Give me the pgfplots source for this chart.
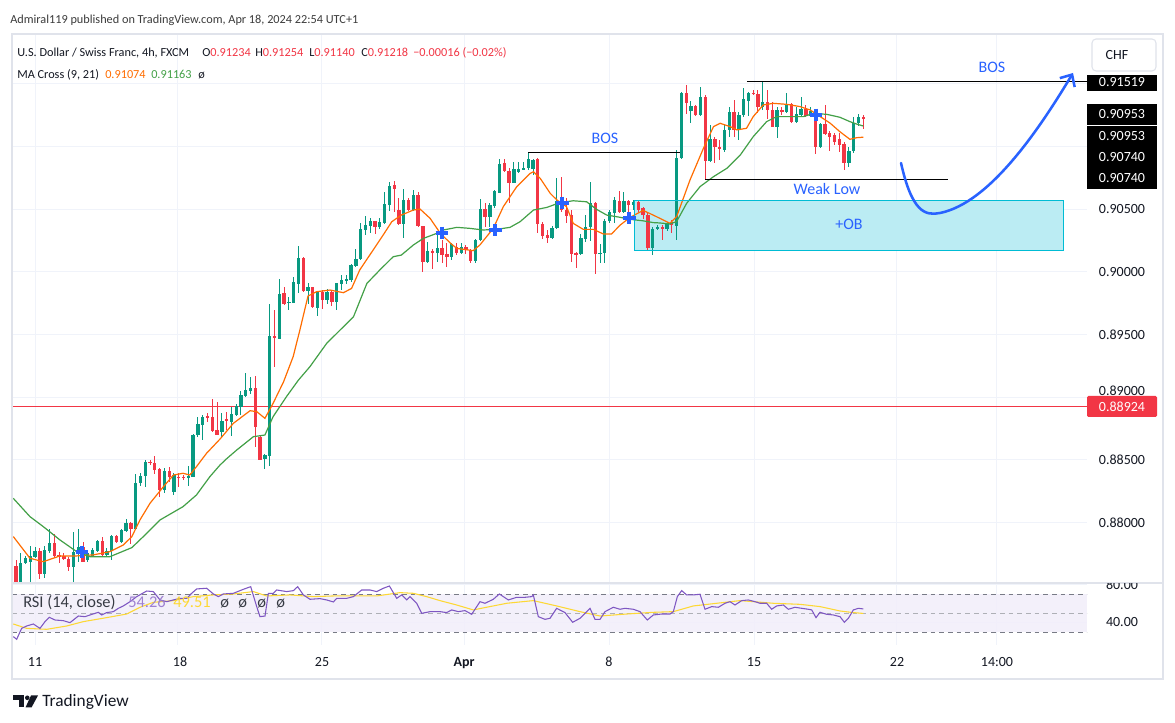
\documentclass[border=0pt]{standalone}
\usepackage{pgfplots}
\pgfplotsset{compat=1.18}
\usepackage{pgfplotstable}
\usepackage{fontspec}
\setmainfont{Carlito}
\usetikzlibrary{arrows.meta}
\definecolor{up}{RGB}{8,153,129}
\definecolor{dn}{RGB}{242,54,69}
\definecolor{maO}{RGB}{255,109,0}
\definecolor{maG}{RGB}{67,160,71}
\definecolor{rsiP}{RGB}{126,87,194}
\definecolor{rsiY}{RGB}{253,216,53}
\definecolor{tvblue}{RGB}{41,98,255}
\definecolor{obfill}{RGB}{187,236,243}
\definecolor{obline}{RGB}{0,188,212}
\definecolor{gridc}{RGB}{240,243,250}
\definecolor{framec}{RGB}{224,227,235}
\definecolor{txt}{RGB}{19,23,34}
\definecolor{hdr}{RGB}{60,60,60}
\definecolor{bandc}{RGB}{242,238,250}
\definecolor{dashc}{RGB}{120,123,134}
\newcommand{\fs}[1]{\fontsize{#1}{#1}\selectfont}
\pgfplotsset{candle/.style={only marks, mark=*, mark size=0.01pt, forget plot,
  mark options={draw opacity=0, fill opacity=0},
  error bars/.cd, y dir=both, y explicit, error mark=none}}
\pgfplotstableread{
i o h l c
1 0.87530 0.87756 0.87527 0.87681
2 0.87676 0.87735 0.87671 0.87716
3 0.87689 0.87817 0.87530 0.87735
4 0.87729 0.87809 0.87716 0.87777
6 0.87588 0.87817 0.87556 0.87782
7 0.87777 0.87947 0.87756 0.87836
12 0.87650 0.87923 0.87530 0.87769
13 0.87769 0.87950 0.87689 0.87804
15 0.87700 0.87777 0.87689 0.87761
16 0.87735 0.87796 0.87729 0.87782
17 0.87777 0.87862 0.87769 0.87854
19 0.87743 0.87796 0.87729 0.87777
20 0.87774 0.87902 0.87703 0.87897
22 0.87849 0.87947 0.87841 0.87942
23 0.87937 0.88027 0.87929 0.87995
25 0.87955 0.88388 0.87950 0.88314
26 0.88314 0.88394 0.88293 0.88375
27 0.88372 0.88500 0.88282 0.88487
31 0.88261 0.88434 0.88234 0.88412
33 0.88248 0.88394 0.88221 0.88380
36 0.88362 0.88452 0.88293 0.88372
37 0.88367 0.88707 0.88362 0.88701
38 0.88701 0.88846 0.88686 0.88785
39 0.88779 0.88859 0.88660 0.88846
43 0.88725 0.88877 0.88686 0.88812
45 0.88800 0.88925 0.88691 0.88866
46 0.88858 0.88951 0.88850 0.88930
47 0.88925 0.89052 0.88858 0.89018
48 0.89010 0.89196 0.89005 0.89058
49 0.89052 0.89164 0.89031 0.89079
52 0.88507 0.88547 0.88425 0.88539
53 0.88534 0.89749 0.88452 0.89488
55 0.89470 0.89943 0.89462 0.89829
57 0.89754 0.89802 0.89696 0.89762
58 0.89754 0.89961 0.89749 0.89916
59 0.89908 0.90206 0.89834 0.90108
61 0.89850 0.89914 0.89745 0.89882
63 0.89717 0.89850 0.89648 0.89842
65 0.89775 0.89868 0.89743 0.89842
67 0.89762 0.89914 0.89696 0.89908
68 0.89903 0.89975 0.89855 0.89940
69 0.89935 0.89980 0.89908 0.89943
70 0.89935 0.90060 0.89922 0.90054
71 0.90046 0.90182 0.90041 0.90102
72 0.90100 0.90392 0.90094 0.90339
73 0.90334 0.90445 0.90294 0.90373
74 0.90368 0.90432 0.90307 0.90408
76 0.90355 0.90427 0.90339 0.90395
77 0.90387 0.90639 0.90381 0.90538
78 0.90538 0.90719 0.90488 0.90684
81 0.90381 0.90658 0.90267 0.90573
83 0.90493 0.90658 0.90485 0.90613
86 0.90081 0.90241 0.90068 0.90166
88 0.90153 0.90307 0.90081 0.90193
91 0.90116 0.90227 0.90094 0.90219
93 0.90148 0.90233 0.90142 0.90201
96 0.90089 0.90267 0.90073 0.90254
97 0.90254 0.90578 0.90249 0.90501
99 0.90435 0.90546 0.90355 0.90533
100 0.90525 0.90653 0.90506 0.90645
101 0.90631 0.90900 0.90626 0.90865
104 0.90714 0.90878 0.90706 0.90825
105 0.90799 0.90878 0.90793 0.90825
106 0.90820 0.90873 0.90812 0.90825
107 0.90825 0.90953 0.90812 0.90900
108 0.90825 0.90905 0.90772 0.90897
112 0.90275 0.90365 0.90267 0.90347
113 0.90347 0.90746 0.90342 0.90567
118 0.90142 0.90307 0.90134 0.90267
119 0.90267 0.90453 0.90241 0.90360
120 0.90360 0.90719 0.90249 0.90552
122 0.90142 0.90222 0.90073 0.90153
123 0.90148 0.90419 0.90073 0.90408
124 0.90408 0.90493 0.90387 0.90480
125 0.90472 0.90599 0.90392 0.90578
127 0.90480 0.90639 0.90472 0.90567
129 0.90533 0.90573 0.90493 0.90559
133 0.90188 0.90361 0.90135 0.90347
134 0.90339 0.90374 0.90334 0.90361
136 0.90339 0.90401 0.90329 0.90387
138 0.90366 0.90972 0.90254 0.90906
139 0.90906 0.91437 0.90898 0.91429
141 0.91286 0.91365 0.91185 0.91323
143 0.91251 0.91477 0.91246 0.91397
145 0.90887 0.91171 0.90879 0.91057
148 0.90972 0.91171 0.90959 0.91132
149 0.91132 0.91318 0.91078 0.91278
151 0.91132 0.91278 0.91052 0.91251
152 0.91251 0.91464 0.91238 0.91376
153 0.91365 0.91437 0.91243 0.91429
156 0.91312 0.91519 0.91291 0.91352
159 0.91158 0.91318 0.91073 0.91291
161 0.91278 0.91424 0.91270 0.91336
163 0.91198 0.91318 0.91190 0.91256
164 0.91251 0.91397 0.91238 0.91296
166 0.91243 0.91312 0.91233 0.91286
168 0.90999 0.91190 0.90985 0.91179
174 0.90866 0.90993 0.90834 0.90967
175 0.90967 0.91238 0.90951 0.91185
176 0.91185 0.91264 0.91163 0.91238
}\uptab
\pgfplotstableread{
i o h l c
0 0.87655 0.87703 0.87527 0.87530
5 0.87777 0.87796 0.87551 0.87588
8 0.87836 0.87910 0.87716 0.87735
9 0.87743 0.87769 0.87681 0.87735
10 0.87737 0.87756 0.87703 0.87708
11 0.87708 0.87729 0.87618 0.87650
14 0.87804 0.87844 0.87684 0.87689
18 0.87854 0.87889 0.87729 0.87743
21 0.87897 0.87902 0.87841 0.87849
24 0.88000 0.88008 0.87830 0.87955
28 0.88487 0.88500 0.88460 0.88473
29 0.88479 0.88532 0.88388 0.88420
30 0.88426 0.88434 0.88202 0.88261
32 0.88412 0.88442 0.88327 0.88367
34 0.88367 0.88394 0.88287 0.88362
35 0.88367 0.88380 0.88341 0.88359
40 0.88846 0.88877 0.88806 0.88840
41 0.88846 0.88984 0.88726 0.88731
42 0.88739 0.88965 0.88699 0.88705
44 0.88825 0.88885 0.88739 0.88813
50 0.89079 0.89169 0.88601 0.88765
51 0.88686 0.88691 0.88499 0.88505
54 0.89488 0.89696 0.89244 0.89470
56 0.89829 0.89882 0.89735 0.89743
60 0.90113 0.90121 0.89844 0.89850
62 0.89876 0.89882 0.89709 0.89717
64 0.89837 0.89855 0.89701 0.89775
66 0.89837 0.89855 0.89728 0.89762
75 0.90405 0.90408 0.90307 0.90360
79 0.90692 0.90724 0.90480 0.90658
80 0.90493 0.90586 0.90373 0.90381
82 0.90573 0.90591 0.90488 0.90493
84 0.90613 0.90639 0.90360 0.90365
85 0.90365 0.90370 0.90001 0.90081
87 0.90166 0.90179 0.90020 0.90156
89 0.90193 0.90254 0.90073 0.90134
90 0.90142 0.90233 0.90041 0.90116
92 0.90201 0.90227 0.90134 0.90153
94 0.90195 0.90214 0.90142 0.90174
95 0.90174 0.90187 0.90073 0.90089
98 0.90501 0.90552 0.90360 0.90435
102 0.90865 0.90897 0.90793 0.90807
103 0.90807 0.90825 0.90546 0.90711
109 0.90905 0.90910 0.90307 0.90381
110 0.90387 0.90400 0.90259 0.90286
111 0.90294 0.90334 0.90233 0.90275
114 0.90567 0.90759 0.90480 0.90493
115 0.90493 0.90586 0.90387 0.90445
116 0.90453 0.90493 0.90081 0.90142
117 0.90148 0.90161 0.90036 0.90137
121 0.90552 0.90559 0.89983 0.90142
126 0.90567 0.90645 0.90466 0.90480
128 0.90567 0.90573 0.90435 0.90533
130 0.90559 0.90573 0.90480 0.90493
131 0.90506 0.90520 0.90427 0.90453
132 0.90453 0.90466 0.90174 0.90187
135 0.90361 0.90374 0.90254 0.90339
137 0.90401 0.90414 0.90308 0.90374
140 0.91429 0.91490 0.91259 0.91344
142 0.91323 0.91331 0.91243 0.91251
144 0.91397 0.91411 0.90740 0.90887
146 0.91057 0.91078 0.90871 0.90993
147 0.90999 0.91052 0.90892 0.90977
150 0.91278 0.91371 0.91078 0.91132
154 0.91429 0.91451 0.91411 0.91419
155 0.91419 0.91451 0.91270 0.91312
157 0.91352 0.91451 0.91217 0.91291
158 0.91291 0.91357 0.91153 0.91158
160 0.91291 0.91318 0.91251 0.91278
162 0.91336 0.91344 0.91190 0.91198
165 0.91296 0.91331 0.91238 0.91243
167 0.91264 0.91278 0.90940 0.90999
169 0.91177 0.91331 0.91092 0.91100
170 0.91110 0.91124 0.90967 0.91078
171 0.91092 0.91105 0.91012 0.91039
172 0.91057 0.91105 0.90959 0.91012
173 0.91020 0.91039 0.90813 0.90866
177 0.91234 0.91254 0.91140 0.91218
}\dntab
\begin{document}
\begin{tikzpicture}
\path[use as bounding box, fill=white] (0,0) rectangle (881.25pt,542.25pt);
% ---------------- price pane ----------------
\begin{axis}[
  anchor=south west, at={(9pt,105.75pt)},
  width=806.25pt, height=411pt, scale only axis,
  xmin=-0.836, xmax=223.73, ymin=0.87527, ymax=0.91897,
  axis line style={draw=none},
  xtick={3.97,33.8,63.9,93.6,123.9,154.2,184.0,204.9},
  ytick={0.880,0.885,0.890,0.895,0.900,0.905,0.910,0.915},
  xticklabel=\empty, yticklabel=\empty, scaled y ticks=false,
  major tick length=0pt,
  grid=major, grid style={gridc, line width=0.75pt},
  clip=true,
]
\fill[obfill] (axis cs:129.1,0.90174) rectangle (axis cs:218.9,0.90573);
\draw[dn, line width=0.75pt] (axis cs:-0.836,0.88924) -- (axis cs:223.73,0.88924);
% wicks
\addplot[candle, error bar style={line width=0.75pt, up}]
  table[x=i, y expr={(\thisrow{h}+\thisrow{l})/2}, y error expr={(\thisrow{h}-\thisrow{l})/2}] {\uptab};
\addplot[candle, error bar style={line width=0.75pt, dn}]
  table[x=i, y expr={(\thisrow{h}+\thisrow{l})/2}, y error expr={(\thisrow{h}-\thisrow{l})/2}] {\dntab};
% bodies
\addplot[candle, error bar style={line width=2.5pt, up}]
  table[x=i, y expr={(\thisrow{o}+\thisrow{c})/2}, y error expr={max(abs(\thisrow{c}-\thisrow{o})/2,0.00004)}] {\uptab};
\addplot[candle, error bar style={line width=2.5pt, dn}]
  table[x=i, y expr={(\thisrow{o}+\thisrow{c})/2}, y error expr={max(abs(\thisrow{c}-\thisrow{o})/2,0.00004)}] {\dntab};
% MA 9
\addplot[maO, line width=0.9pt, mark=none] coordinates {
(-0.56,0.87889) (2.92,0.87716) (5.71,0.87689) (9.19,0.87735) (12.67,0.87735) (16.15,0.87743)
(19.63,0.87769) (22.4,0.87822) (24.2,0.87889) (25.9,0.88022) (28.0,0.88155) (30.8,0.88287)
(32.9,0.88380) (34.9,0.88394) (36.3,0.88380) (37.7,0.88447) (39.8,0.88553) (42.6,0.88666)
(45.4,0.88792) (48.9,0.88893) (50.3,0.88885) (52.0,0.88832) (53.7,0.88951) (55.9,0.89124)
(57.9,0.89324) (59.3,0.89536) (61.0,0.89807) (62.8,0.89842) (65.6,0.89855) (68.4,0.89834)
(70.1,0.89868) (71.8,0.90015) (74.6,0.90174) (76.7,0.90294) (78.5,0.90400) (80.5,0.90453)
(83.0,0.90493) (84.4,0.90501) (86.5,0.90427) (88.6,0.90310) (90.7,0.90230) (92.1,0.90187)
(95.5,0.90169) (96.9,0.90214) (99.7,0.90347) (101.8,0.90520) (104.6,0.90679) (107.4,0.90785)
(108.1,0.90799) (109.5,0.90746) (111.6,0.90626) (113.0,0.90573) (115.0,0.90520) (116.4,0.90387)
(118.5,0.90339) (120.6,0.90339) (122.7,0.90302) (124.4,0.90302) (126.2,0.90373) (128.3,0.90435)
(131.0,0.90490) (133.1,0.90453) (134.5,0.90427) (136.6,0.90387) (138.0,0.90440) (140.8,0.90733)
(143.6,0.90985) (145.7,0.91158) (147.1,0.91185) (149.2,0.91158) (150.6,0.91132) (152.6,0.91145)
(154.0,0.91238) (156.1,0.91331) (158.2,0.91344) (161.0,0.91336) (163.8,0.91318) (165.9,0.91291)
(168.0,0.91238) (170.1,0.91185) (172.1,0.91118) (174.2,0.91057) (175.6,0.91070) (177.0,0.91074)
};
% MA 21
\addplot[maG, line width=0.9pt, mark=none] coordinates {
(-0.56,0.88194) (2.92,0.88048) (5.71,0.87968) (9.19,0.87862) (12.67,0.87769) (15.46,0.87729)
(19.63,0.87729) (24.2,0.87801) (26.6,0.87889) (30.1,0.88022) (34.9,0.88128) (37.7,0.88221)
(40.5,0.88367) (42.6,0.88459) (44.0,0.88510) (46.1,0.88579) (49.6,0.88686) (52.0,0.88699)
(53.7,0.88845) (56.5,0.89005) (59.0,0.89137) (61.4,0.89244) (64.9,0.89430) (67.7,0.89536)
(70.5,0.89642) (73.3,0.89908) (76.0,0.90015) (78.8,0.90121) (80.5,0.90134) (83.0,0.90214)
(85.1,0.90267) (87.9,0.90307) (89.3,0.90334) (92.1,0.90355) (94.8,0.90347) (97.6,0.90334)
(100.4,0.90339) (103.2,0.90355) (105.3,0.90400) (108.1,0.90493) (110.9,0.90514) (113.6,0.90552)
(116.4,0.90567) (119.2,0.90559) (121.3,0.90498) (123.4,0.90453) (126.2,0.90435) (128.3,0.90419)
(131.0,0.90407) (133.1,0.90393) (134.5,0.90390) (136.6,0.90382) (138.0,0.90401) (140.1,0.90547)
(142.9,0.90680) (145.7,0.90759) (148.5,0.90826) (151.3,0.90932) (154.0,0.91078) (156.8,0.91198)
(158.9,0.91238) (161.7,0.91238) (164.5,0.91238) (166.6,0.91264) (169.4,0.91256) (172.1,0.91233)
(174.2,0.91198) (175.6,0.91179) (177.0,0.91163)
};
% MA cross markers
\addplot[only marks, mark=+, mark size=4.8pt, tvblue, line width=3.2pt] coordinates {
(13.8,0.87766) (89.0,0.90310) (100.1,0.90334) (114.1,0.90550) (128.1,0.90430) (167.1,0.91251)
};
\draw[obline, line width=0.75pt] (axis cs:129.1,0.90174) rectangle (axis cs:218.9,0.90573);
\draw[black, line width=0.75pt] (axis cs:107,0.90953) -- (axis cs:138.7,0.90953);
\draw[black, line width=0.75pt] (axis cs:152.7,0.91519) -- (axis cs:223.73,0.91519);
\draw[black, line width=0.75pt] (axis cs:143.9,0.90740) -- (axis cs:194.7,0.90740);
\end{axis}
% ---------------- RSI pane ----------------
\begin{axis}[
  anchor=south west, at={(9pt,58.5pt)},
  width=806.25pt, height=47.25pt, scale only axis,
  xmin=-0.836, xmax=223.73, ymin=16.3, ymax=82.6,
  axis line style={draw=none},
  xtick={3.97,33.8,63.9,93.6,123.9,154.2,184.0,204.9},
  ytick={40,80},
  xticklabel=\empty, yticklabel=\empty,
  major tick length=0pt,
  grid=major, grid style={gridc, line width=0.75pt},
  clip=true,
]
\fill[bandc, opacity=0.85] (axis cs:-0.836,30) rectangle (axis cs:223.73,70);
\draw[dashc, line width=0.7pt, dash pattern=on 3.5pt off 3pt] (axis cs:-0.836,70) -- (axis cs:223.73,70);
\draw[dashc!60, line width=0.7pt, dash pattern=on 3.5pt off 3pt] (axis cs:-0.836,50) -- (axis cs:223.73,50);
\draw[dashc, line width=0.7pt, dash pattern=on 3.5pt off 3pt] (axis cs:-0.836,30) -- (axis cs:223.73,30);
\addplot[rsiY, line width=0.8pt, mark=none] coordinates {
(-0.56,38.4) (2.23,33.8) (6.41,32.8) (10.59,36.3) (14.07,40.9) (18.94,45.1) (23.12,48.9)
(25.91,56.0) (28.69,61.2) (32.87,63.0) (37.05,67.2) (41.23,69.0) (45.40,70.0) (49.58,72.5)
(52.37,67.9) (57.24,69.0) (62.12,67.2) (66.30,67.9) (70.48,67.9) (75.35,67.9) (80.22,71.4)
(83.01,70.7) (85.79,67.2) (88.57,63.0) (92.05,58.4) (95.53,53.2) (99.0,56.7) (102.5,60.2)
(108.07,63.0) (112.94,57.4) (117.82,51.4) (122.0,46.8) (127.57,48.9) (133.14,50.7) (137.32,51.4)
(141.5,57.4) (146.37,60.2) (151.24,63.0) (154.03,61.9) (158.21,60.2) (163.78,59.1) (167.96,56.7)
(172.14,52.1) (174.92,50.4) (177.01,49.51)
};
\addplot[rsiP, line width=0.8pt, mark=none] coordinates {
(-0.56,25.1) (0.14,22.3) (1.18,33.8) (2.23,36.3) (3.62,38.4) (5.01,33.8) (6.06,40.9) (6.96,45.4)
(8.15,42.6) (9.89,41.9) (11.28,39.8) (13.02,46.8) (14.42,46.1) (15.46,47.9) (17.20,50.7) (17.90,47.9)
(18.94,50.4) (20.34,51.4) (21.38,54.9) (22.42,57.4) (23.82,61.9) (25.21,67.2) (27.30,73.1) (28.69,72.5)
(30.08,63.7) (31.48,61.9) (32.87,63.7) (34.26,65.4) (35.66,65.4) (36.70,70.7) (37.75,75.3) (39.83,76.0)
(41.23,70.0) (42.27,67.2) (43.32,70.0) (45.40,70.7) (47.49,74.9) (49.03,77.7) (50.28,56.7) (50.97,46.1)
(52.02,46.8) (52.72,70.7) (53.76,70.7) (54.46,74.2) (56.55,72.5) (57.94,73.5) (58.84,77.7) (60.03,69.0)
(61.42,64.4) (63.51,65.1) (64.90,63.7) (66.30,61.6) (66.99,65.4) (69.08,65.4) (70.48,67.2) (72.22,74.2)
(73.96,74.2) (75.35,72.5) (76.74,76.0) (78.00,78.4) (79.53,65.4) (80.57,69.0) (81.62,63.7) (82.31,67.2)
(83.71,60.2) (84.75,49.6) (86.49,51.4) (88.57,51.4) (89.96,50.4) (91.01,53.2) (92.40,51.4) (93.79,52.5)
(95.19,48.6) (96.93,61.9) (97.97,60.2) (99.71,64.4) (100.97,70.0) (102.85,63.7) (104.59,66.5) (106.33,66.5)
(107.72,67.2) (108.07,69.0) (109.11,46.1) (110.51,43.3) (111.55,44.4) (112.94,54.9) (114.68,50.4) (116.29,40.2)
(117.82,44.4) (119.91,54.9) (120.95,43.3) (122.0,43.3) (123.04,51.4) (124.78,56.0) (126.18,53.9) (127.22,54.9)
(128.96,53.9) (130.35,51.4) (131.88,42.6) (133.14,47.9) (134.88,48.9) (136.62,48.9) (137.32,51.4) (138.15,67.2)
(139.06,73.5) (140.1,69.0) (141.5,69.0) (142.89,69.7) (143.93,53.9) (145.33,56.7) (146.72,56.0) (148.11,60.2)
(149.15,61.9) (150.2,58.4) (151.59,63.0) (152.98,63.7) (154.38,61.9) (155.42,60.2) (156.81,60.2) (157.86,53.9)
(158.9,57.4) (160.3,58.4) (161.34,53.9) (162.73,56.0) (164.13,54.9) (165.52,53.9) (166.22,53.2) (167.12,45.1)
(167.96,50.7) (169.35,48.6) (170.74,47.9) (172.14,46.1) (173.04,40.2) (173.88,44.4) (174.92,53.2) (175.97,54.9)
(177.01,54.26)
};
\end{axis}
% ---------------- overlay in pixel units ----------------
\begin{scope}[x=0.75pt, y=-0.75pt, yshift=542.25pt]
\draw[framec, line width=1.2pt] (12,34) rectangle (1163,679);
\draw[framec, line width=1pt] (12,583) -- (1163,583);
% header
\node[anchor=base west, inner sep=0, text=hdr, font=\fs{9.2}] at (10,24) {Admiral119 published on TradingView.com, Apr 18, 2024 22:54 UTC+1};
\node[anchor=base west, inner sep=0, text=txt, font=\fs{9.2}] at (17,57) {U.S. Dollar / Swiss Franc, 4h, FXCM};
\node[anchor=base west, inner sep=0, text=txt, font=\fs{9.2}] at (202,57) {O\textcolor{dn}{0.91234}};
\node[anchor=base west, inner sep=0, text=txt, font=\fs{9.2}] at (255,57) {H\textcolor{dn}{0.91254}};
\node[anchor=base west, inner sep=0, text=txt, font=\fs{9.2}] at (309,57) {L\textcolor{dn}{0.91140}};
\node[anchor=base west, inner sep=0, text=txt, font=\fs{9.2}] at (361,57) {C\textcolor{dn}{0.91218}};
\node[anchor=base west, inner sep=0, text=dn, font=\fs{9.2}] at (413,57) {−0.00016 (−0.02\%)};
\node[anchor=base west, inner sep=0, text=txt, font=\fs{9.2}] at (17,79) {MA Cross (9, 21)};
\node[anchor=base west, inner sep=0, text=maO, font=\fs{9.2}] at (105,79) {0.91074};
\node[anchor=base west, inner sep=0, text=maG, font=\fs{9.2}] at (151,79) {0.91163};
\node[anchor=base west, inner sep=0, text=txt, font=\fs{9.2}] at (198,79) {ø};
% annotation texts
\node[anchor=center, text=tvblue, font=\fs{12}] at (605,138) {BOS};
\node[anchor=center, text=tvblue, font=\fs{12}] at (992,67) {BOS};
\node[anchor=center, text=tvblue, font=\fs{12}] at (827,189) {Weak Low};
\node[anchor=center, text=tvblue, font=\fs{12}] at (849,224) {+OB};
\draw[tvblue, line width=1.9pt, line cap=round, -{Straight Barb[length=7pt,width=13pt]}]
  (901,163) .. controls (912,212) and (925,216) .. (940,213) .. controls (990,203) and (1040,128) .. (1073,73);
% price scale
\foreach \v/\yy in {0.90500/209, 0.90000/272, 0.89500/335, 0.88500/460, 0.88000/523}{
  \node[anchor=base, inner sep=0, text=txt, font=\fs{10.5}] at (1122,\yy+4.5) {\v};
}
\node[anchor=base, inner sep=0, text=txt, font=\fs{10.5}] at (1122,395.3) {0.89000};
\fill[black] (1087,75) rectangle (1157,91);
\node[anchor=base, inner sep=0, text=white, font=\fs{10.5}] at (1122,87) {0.91519};
\fill[black] (1087,104) rectangle (1157,125);
\node[anchor=base, inner sep=0, text=white, font=\fs{10.5}] at (1122,119) {0.90953};
\fill[black] (1087,126) rectangle (1157,189);
\node[anchor=base, inner sep=0, text=white, font=\fs{10.5}] at (1122,141) {0.90953};
\node[anchor=base, inner sep=0, text=white, font=\fs{10.5}] at (1122,162) {0.90740};
\node[anchor=base, inner sep=0, text=white, font=\fs{10.5}] at (1122,183) {0.90740};
\fill[dn, rounded corners=1pt] (1087,396) rectangle (1157,417);
\node[anchor=base, inner sep=0, text=white, font=\fs{10.5}] at (1122,411.5) {0.88924};
\draw[framec, fill=white, rounded corners=3pt, line width=0.8pt] (1092,39) rectangle (1156,71);
\node[anchor=base, inner sep=0, text=txt, font=\fs{10.5}] at (1117,59.5) {CHF};
\begin{scope}
\clip (1088,584) rectangle (1160,600);
\node[anchor=base, inner sep=0, text=txt, font=\fs{10.5}] at (1122,589.5) {80.00};
\end{scope}
\node[anchor=base, inner sep=0, text=txt, font=\fs{10.5}] at (1122,626.5) {40.00};
% RSI legend
\node[anchor=base west, inner sep=0, text=txt!85, font=\fs{12.3}] at (23,608) {RSI (14, close)};
\node[anchor=base west, inner sep=0, text=rsiP!75, font=\fs{12.3}] at (128,608) {54.26};
\node[anchor=base west, inner sep=0, text=rsiY, font=\fs{12.3}] at (173,608) {49.51};
\node[anchor=base west, inner sep=0, text=txt!85, font=\fs{12.3}] at (220,608) {ø};
\node[anchor=base west, inner sep=0, text=txt!85, font=\fs{12.3}] at (238,608) {ø};
\node[anchor=base west, inner sep=0, text=txt!85, font=\fs{12.3}] at (257,608) {ø};
\node[anchor=base west, inner sep=0, text=txt!85, font=\fs{12.3}] at (276,608) {ø};
% time axis
\foreach \t/\xx in {11/35, 18/180, 25/322, 8/609, 15/754, 22/897, 14:00/997}{
  \node[anchor=base, inner sep=0, text=txt, font=\fs{10.5}] at (\xx,666.5) {\t};
}
\node[anchor=base, inner sep=0, text=txt, font=\fs{10.5}\bfseries] at (464,666.5) {Apr};
% logo
\fill[txt] (13,695.5) rectangle (23.5,700);
\fill[txt] (19,695.5) rectangle (23.5,707.5);
\fill[txt] (27.3,697.8) circle (2.3);
\fill[txt] (31,695.5) -- (38,695.5) -- (31.5,707.5) -- (25.5,707.5) -- cycle;
\node[anchor=base west, inner sep=0, text=txt, font=\fs{13}] at (42,707) {TradingView};
\end{scope}
\end{tikzpicture}
\end{document}
